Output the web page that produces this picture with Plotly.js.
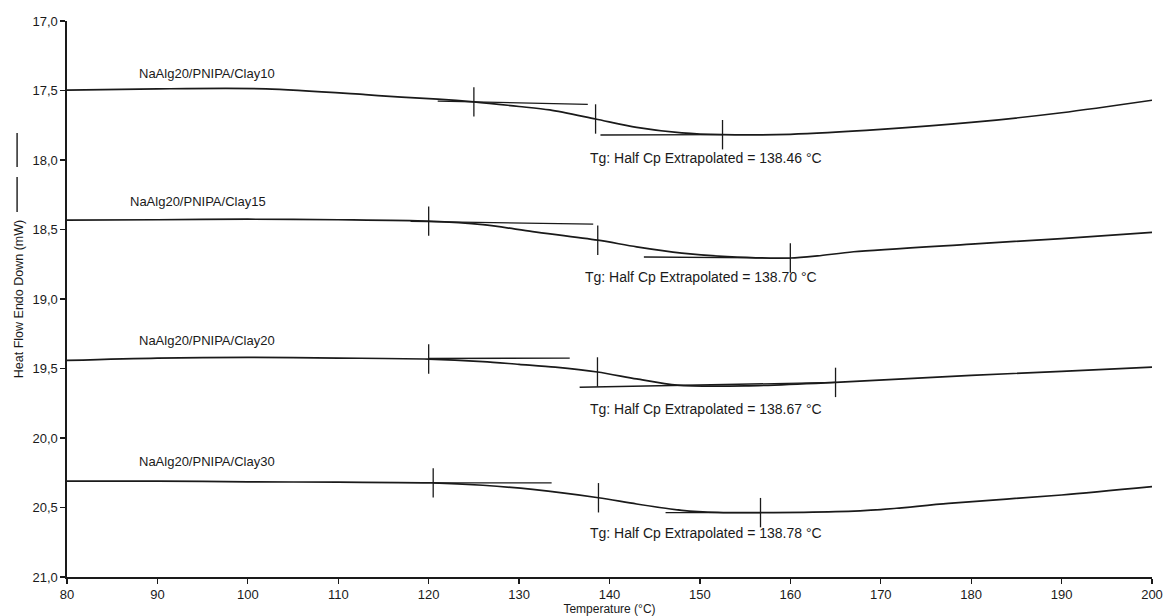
<!DOCTYPE html>
<html>
<head>
<meta charset="utf-8">
<script src="https://cdn.plot.ly/plotly-3.0.1.min.js"></script>
<style>
  html, body { margin: 0; padding: 0; background: #fff; }
  #chart { width: 1164px; height: 616px; }
</style>
</head>
<body>
<div id="chart"></div>
<script>
// DSC heat-flow curves (endo down) for NaAlg20/PNIPA/Clay samples
const sampleNames = ['NaAlg20/PNIPA/Clay10', 'NaAlg20/PNIPA/Clay15', 'NaAlg20/PNIPA/Clay20', 'NaAlg20/PNIPA/Clay30'];
const tgValues = [138.46, 138.70, 138.67, 138.78];

// Temperature (°C) and heat flow (mW) for each sample
const clay10T = [80, 90, 102, 113, 117, 121, 125, 130, 133.4, 138.46, 143, 148, 152.5, 160, 170, 180, 190, 200];
const clay10H = [17.498, 17.488, 17.488, 17.53, 17.548, 17.562, 17.582, 17.615, 17.64, 17.705, 17.765, 17.805, 17.818, 17.815, 17.78, 17.73, 17.66, 17.57];

const clay15T = [80, 90, 100, 110, 120, 126, 131.5, 138.7, 143, 148, 153, 160, 163, 167, 180, 190, 200];
const clay15H = [18.432, 18.43, 18.426, 18.43, 18.44, 18.465, 18.515, 18.577, 18.625, 18.67, 18.695, 18.705, 18.69, 18.66, 18.605, 18.565, 18.52];

const clay20T = [80, 90, 100, 110, 120, 126, 130, 134, 138.67, 143, 147.5, 155, 165, 180, 190, 200];
const clay20H = [19.442, 19.425, 19.42, 19.425, 19.432, 19.45, 19.47, 19.49, 19.525, 19.575, 19.62, 19.625, 19.60, 19.55, 19.52, 19.49];

const clay30T = [80, 90, 100, 110, 120.5, 126, 131.5, 138.78, 143, 148, 152, 156.7, 165, 170, 177.5, 190, 200];
const clay30H = [20.31, 20.31, 20.315, 20.318, 20.323, 20.34, 20.37, 20.43, 20.475, 20.52, 20.535, 20.537, 20.53, 20.515, 20.47, 20.41, 20.35];

// Onset, midpoint (Tg) and end markers on each curve
const clay10MarkT = [125, 138.46, 152.5];
const clay10MarkH = [17.582, 17.705, 17.818];
const clay15MarkT = [120, 138.70, 160];
const clay15MarkH = [18.44, 18.577, 18.705];
const clay20MarkT = [120, 138.67, 165];
const clay20MarkH = [19.432, 19.525, 19.60];
const clay30MarkT = [120.5, 138.78, 156.7];
const clay30MarkH = [20.323, 20.43, 20.537];

// Extrapolated baselines before and after the transition
const clay10PreT = [121, 137.6];   const clay10PreH = [17.576, 17.60];
const clay10PostT = [139, 152.5];  const clay10PostH = [17.82, 17.818];
const clay15PreT = [118, 138.2];   const clay15PreH = [18.442, 18.462];
const clay15PostT = [143.8, 160];  const clay15PostH = [18.698, 18.705];
const clay20PreT = [120, 135.6];   const clay20PreH = [19.428, 19.425];
const clay20PostT = [136.7, 165];  const clay20PostH = [19.635, 19.60];
const clay30PreT = [120.5, 133.6]; const clay30PreH = [20.323, 20.323];
const clay30PostT = [146.2, 156.7];const clay30PostH = [20.537, 20.537];

const xTicks = [80, 90, 100, 110, 120, 130, 140, 150, 160, 170, 180, 190, 200];
const yTicks = [17.0, 17.5, 18.0, 18.5, 19.0, 19.5, 20.0, 20.5, 21.0];

const ink = '#1a1a1a';
const fontFamily = 'Liberation Sans, Arial, sans-serif';
const curves = [
  [clay10T, clay10H], [clay15T, clay15H], [clay20T, clay20H], [clay30T, clay30H]
];
const marks = [
  [clay10MarkT, clay10MarkH], [clay15MarkT, clay15MarkH], [clay20MarkT, clay20MarkH], [clay30MarkT, clay30MarkH]
];
const baselines = [
  [clay10PreT, clay10PreH], [clay10PostT, clay10PostH],
  [clay15PreT, clay15PreH], [clay15PostT, clay15PostH],
  [clay20PreT, clay20PreH], [clay20PostT, clay20PostH],
  [clay30PreT, clay30PreH], [clay30PostT, clay30PostH]
];

const traces = [];
curves.forEach(([t, h], i) => {
  traces.push({
    x: t, y: h, type: 'scatter', mode: 'lines', name: sampleNames[i],
    line: { color: ink, width: 1.7, shape: 'spline', smoothing: 0.8 },
    hoverinfo: 'skip'
  });
});
baselines.forEach(([t, h]) => {
  traces.push({
    x: t, y: h, type: 'scatter', mode: 'lines',
    line: { color: ink, width: 1.3 }, hoverinfo: 'skip'
  });
});
marks.forEach(([t, h]) => {
  traces.push({
    x: t, y: h, type: 'scatter', mode: 'markers',
    marker: { symbol: 'line-ns', size: 21, color: ink, line: { color: ink, width: 1.3 } },
    hoverinfo: 'skip'
  });
});

// Label positions (data coordinates)
const nameAnchors = [[87.7, 17.38], [86.7, 18.30], [87.7, 19.30], [87.7, 20.17]];
const tgAnchors = [[137.6, 17.985], [137.1, 18.845], [137.6, 19.79], [137.6, 20.68]];

const annotations = [];
sampleNames.forEach((name, i) => {
  annotations.push({
    x: nameAnchors[i][0], y: nameAnchors[i][1], xref: 'x', yref: 'y',
    text: name, showarrow: false, xanchor: 'left', yanchor: 'middle',
    font: { family: fontFamily, size: 13, color: ink }
  });
  annotations.push({
    x: tgAnchors[i][0], y: tgAnchors[i][1], xref: 'x', yref: 'y',
    text: 'Tg: Half Cp Extrapolated = ' + tgValues[i].toFixed(2) + ' °C',
    showarrow: false, xanchor: 'left', yanchor: 'middle',
    font: { family: fontFamily, size: 14, color: ink }
  });
});

// Marker strokes beside the y-axis title
const shapes = [
  { type: 'line', xref: 'paper', yref: 'paper', x0: -0.046, x1: -0.046, y0: 0.7986, y1: 0.7374,
    line: { color: ink, width: 1.4 } },
  { type: 'line', xref: 'paper', yref: 'paper', x0: -0.046, x1: -0.046, y0: 0.7194, y1: 0.6565,
    line: { color: ink, width: 1.4 } }
];

const layout = {
  width: 1164, height: 616,
  margin: { l: 67, r: 12, t: 21, b: 39 },
  paper_bgcolor: '#fff', plot_bgcolor: '#fff',
  showlegend: false,
  separators: ', ',
  font: { family: fontFamily, size: 12, color: ink },
  xaxis: {
    range: [80, 200], tickvals: xTicks, ticks: 'outside', ticklen: 5, tickwidth: 1.3,
    tickcolor: ink, showline: true, linecolor: ink, linewidth: 1.6, showgrid: false,
    zeroline: false, tickfont: { size: 13 },
    title: { text: 'Temperature (°C)', font: { size: 12 }, standoff: 1 }
  },
  yaxis: {
    range: [21, 17], tickvals: yTicks, tickformat: '.1f', ticks: 'outside', ticklen: 5,
    tickwidth: 1.3, tickcolor: ink, showline: true, linecolor: ink, linewidth: 1.6,
    showgrid: false, zeroline: false, tickfont: { size: 13 },
    title: { text: 'Heat Flow Endo Down (mW)', font: { size: 12.5 }, standoff: 6 }
  },
  annotations: annotations,
  shapes: shapes
};

Plotly.newPlot('chart', traces, layout, { staticPlot: true, displayModeBar: false });
</script>
</body>
</html>
